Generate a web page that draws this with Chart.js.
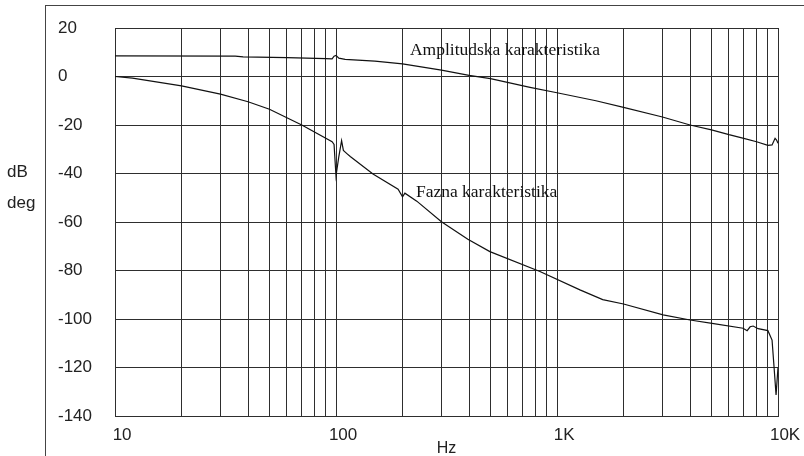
<!DOCTYPE html>
<html lang="sr">
<head>
    <meta charset="UTF-8">
    <title>Amplitudska i fazna karakteristika</title>
    <script src="https://cdn.jsdelivr.net/npm/chart.js"></script>
    <style>
        body {
            margin: 0;
            padding: 0;
            background: #ffffff;
        }
        .wrap {
            position: relative;
            width: 804px;
            height: 456px;
            overflow: hidden;
        }
        .frame {
            position: absolute;
            left: 45px;
            top: 5px;
            right: -2px;
            bottom: -2px;
            border-left: 1px solid #444;
            border-top: 1px solid #444;
            pointer-events: none;
        }
        .unit {
            position: absolute;
            left: 7px;
            font-family: 'Liberation Sans', Arial, sans-serif;
            font-size: 17px;
            color: #222;
            line-height: 20px;
        }
    </style>
</head>
<body>
    <div class="wrap">
        <canvas id="bode" width="804" height="456"></canvas>
        <div class="frame"></div>
        <div class="unit" style="top:162px">dB</div>
        <div class="unit" style="top:193px">deg</div>
    </div>

    <script>
        // amplituda (dB) - frekvencije u Hz
        const ampFreq = [10, 35, 38, 60, 90, 96, 98, 100, 103, 110, 150, 200, 300, 400, 500, 755, 1000, 1500, 2000, 3000, 4000, 5000, 6000, 7000, 8000, 9000, 9400, 9700, 9850, 10000];
        const ampDb   = [8.5, 8.4, 8.1, 7.8, 7.4, 7.3, 8.4, 8.7, 7.6, 7.1, 6.3, 5.2, 2.6, 0.5, -0.9, -4.5, -6.7, -10, -12.7, -16.7, -20, -22, -24, -25.5, -26.9, -28.4, -28.2, -25.5, -26.2, -27.5];

        // faza (deg)
        const phFreq = [10, 12, 20, 30, 40, 50, 70, 96, 98, 100, 103, 106, 108, 112, 116, 147, 191, 200, 205, 232, 300, 395, 497, 837, 1270, 1610, 2000, 3020, 4000, 5030, 6950, 7250, 7480, 7720, 8130, 9000, 9400, 9600, 9800, 10000];
        const phDeg  = [0, -0.7, -3.9, -7.3, -10.4, -13.5, -20, -26.9, -28, -41, -33, -26.5, -30.5, -31.8, -33, -40.2, -46.5, -49.6, -48.1, -51.4, -59.9, -67.1, -72.2, -80.4, -88, -92, -93.8, -98.3, -100.4, -101.8, -103.8, -104.8, -103.2, -102.9, -104, -104.8, -108.7, -120, -131.3, -120];

        const xGrid = [10, 20, 30, 40, 50, 60, 70, 80, 90, 100, 200, 300, 400, 500, 600, 700, 800, 900, 1000, 2000, 3000, 4000, 5000, 6000, 7000, 8000, 9000, 10000];
        const xLabelValues = [10, 100, 1000, 10000];
        const xLabelText = ['10', '100', '1K', '10K'];

        const notes = [
            { text: 'Amplitudska karakteristika', f: 216, v: 8.9 },
            { text: 'Fazna karakteristika', f: 230, v: -49.6 }
        ];

        const toPoints = (fs, vs) => fs.map((f, i) => ({ x: f, y: vs[i] }));

        const notePlugin = {
            id: 'notes',
            afterDatasetsDraw(chart) {
                const ctx = chart.ctx;
                const sx = chart.scales.x, sy = chart.scales.y;
                ctx.save();
                ctx.font = "17.5px 'Liberation Serif', 'Times New Roman', serif";
                ctx.fillStyle = '#111';
                ctx.textAlign = 'left';
                ctx.textBaseline = 'alphabetic';
                notes.forEach(n => {
                    ctx.fillText(n.text, sx.getPixelForValue(n.f), sy.getPixelForValue(n.v));
                });
                ctx.restore();
            }
        };

        const gridColor = '#2e2e2e';
        const sans = "'Liberation Sans', Arial, sans-serif";

        new Chart(document.getElementById('bode'), {
            type: 'line',
            data: {
                datasets: [
                    { label: 'Amplitudska', data: toPoints(ampFreq, ampDb), borderColor: '#111', borderWidth: 1.2, pointRadius: 0, tension: 0, fill: false },
                    { label: 'Fazna', data: toPoints(phFreq, phDeg), borderColor: '#111', borderWidth: 1.2, pointRadius: 0, tension: 0, fill: false }
                ]
            },
            options: {
                responsive: false,
                animation: false,
                layout: { padding: { left: 58, top: 28, right: 26, bottom: 0 } },
                plugins: {
                    legend: { display: false },
                    tooltip: { enabled: false }
                },
                scales: {
                    x: {
                        type: 'logarithmic',
                        min: 10,
                        max: 10000,
                        afterBuildTicks: s => { s.ticks = xGrid.map(v => ({ value: v })); },
                        afterFit: s => { s.height = 40; s.paddingLeft = 0; s.paddingRight = 0; },
                        grid: { color: gridColor, lineWidth: 1, drawTicks: false },
                        border: { color: gridColor, width: 1 },
                        ticks: {
                            autoSkip: false,
                            maxRotation: 0,
                            padding: 9,
                            color: '#222',
                            font: { family: sans, size: 17 },
                            // labels in the original sit a few px right of their gridline
                            callback: v => {
                                const i = xLabelValues.indexOf(v);
                                return i >= 0 ? '   ' + xLabelText[i] : '';
                            }
                        },
                        title: {
                            display: true,
                            text: 'Hz',
                            color: '#222',
                            font: { family: sans, size: 16 },
                            padding: { top: 0, bottom: -2 }
                        }
                    },
                    y: {
                        min: -140,
                        max: 20,
                        afterFit: s => { s.width = 57; s.paddingTop = 0; s.paddingBottom = 0; },
                        grid: { color: gridColor, lineWidth: 1, drawTicks: false },
                        border: { color: gridColor, width: 1 },
                        ticks: {
                            stepSize: 20,
                            crossAlign: 'far',
                            color: '#222',
                            font: { family: sans, size: 17 }
                        }
                    }
                }
            },
            plugins: [notePlugin]
        });
    </script>
</body>
</html>
